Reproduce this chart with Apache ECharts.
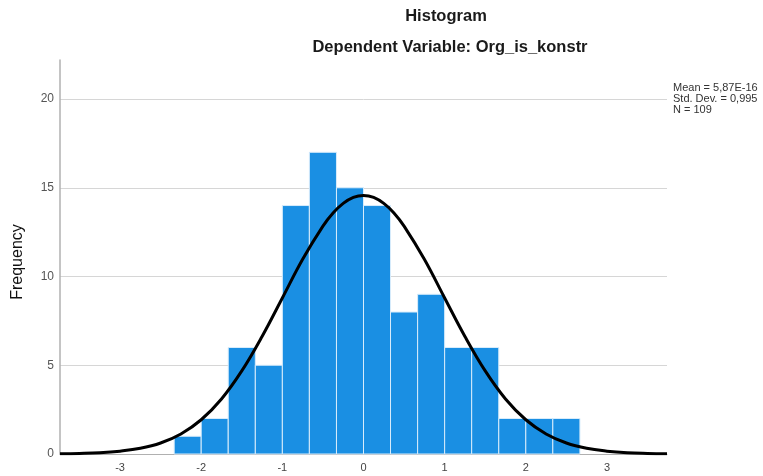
<!DOCTYPE html>
<html>
<head>
<meta charset="utf-8">
<script src="https://cdn.jsdelivr.net/npm/echarts@6/dist/echarts.min.js"></script>
<style>html,body{margin:0;padding:0;background:#fff}#c{width:763px;height:476px}</style>
</head>
<body>
<div id="c"></div>
<script>
// Histogram bins (lower edge, upper edge) and frequencies
var binLower = [-2.333, -2.000, -1.667, -1.333, -1.000, -0.667, -0.333, 0.000, 0.333, 0.667, 1.000, 1.333, 1.667, 2.000, 2.333];
var binUpper = [-2.000, -1.667, -1.333, -1.000, -0.667, -0.333, 0.000, 0.333, 0.667, 1.000, 1.333, 1.667, 2.000, 2.333, 2.667];
var frequencies = [1, 2, 6, 5, 14, 17, 15, 14, 8, 9, 6, 6, 2, 2, 2];

// Normal curve
var curveX = [-3.74, -3.5, -3.25, -3.0, -2.75, -2.5, -2.25, -2.0, -1.75, -1.5, -1.25, -1.0, -0.75, -0.5, -0.375, -0.25, -0.125, 0.0, 0.125, 0.25, 0.375, 0.5, 0.75, 1.0, 1.25, 1.5, 1.75, 2.0, 2.25, 2.5, 2.75, 3.0, 3.25, 3.5, 3.74];
var curveY = [0.01, 0.03, 0.07, 0.16, 0.32, 0.62, 1.13, 1.93, 3.10, 4.68, 6.62, 8.79, 10.97, 12.84, 13.58, 14.12, 14.46, 14.57, 14.46, 14.12, 13.58, 12.84, 10.97, 8.79, 6.62, 4.68, 3.10, 1.93, 1.13, 0.62, 0.32, 0.16, 0.07, 0.03, 0.01];

var xTicks = [-3, -2, -1, 0, 1, 2, 3];
var yTicks = [0, 5, 10, 15, 20];

var titleText = 'Histogram';
var subtitleText = 'Dependent Variable: Org_is_konstr';
var statsText = ['Mean = 5,87E-16', 'Std. Dev. = 0,995', 'N = 109'];

var chart = echarts.init(document.getElementById('c'), null, {renderer: 'canvas'});

var barData = binLower.map(function (lo, i) { return [lo, binUpper[i], frequencies[i]]; });
var lineData = curveX.map(function (x, i) { return [x, curveY[i]]; });

var option = {
  animation: false,
  backgroundColor: '#ffffff',
  textStyle: {fontFamily: 'Liberation Sans, Arial, sans-serif'},
  title: [
    {text: titleText, left: 441, top: 3, textAlign: 'center',
     textStyle: {fontSize: 16.5, fontWeight: 'bold', color: '#1a1a1a', fontFamily: 'Liberation Sans'}},
    {text: subtitleText, left: 445, top: 34, textAlign: 'center',
     textStyle: {fontSize: 16.5, fontWeight: 'bold', color: '#1a1a1a', fontFamily: 'Liberation Sans'}}
  ],
  grid: {left: 60, right: 96, top: 60, bottom: 22, containLabel: false},
  xAxis: {
    type: 'value', min: -3.74, max: 3.74,
    axisLine: {show: true, onZero: false, lineStyle: {color: '#b0b0b0', width: 1}},
    axisTick: {show: false},
    splitLine: {show: false},
    axisLabel: {customValues: xTicks, color: '#444', fontSize: 11, margin: 8,
                formatter: function (v) { return String(v); }}
  },
  yAxis: {
    type: 'value', min: 0, max: 22.2, interval: 5,
    axisLine: {show: true, onZero: false, lineStyle: {color: '#b0b0b0', width: 1.5}},
    axisTick: {show: false},
    axisLabel: {customValues: yTicks, color: '#555', fontSize: 12, margin: 6},
    splitLine: {show: true, showMaxLine: false, lineStyle: {color: '#d6d6d6', width: 1}}
  },
  series: [
    {
      type: 'custom',
      data: barData,
      encode: {x: [0, 1], y: 2},
      renderItem: function (params, api) {
        var p0 = api.coord([api.value(0), api.value(2)]);
        var p1 = api.coord([api.value(1), 0]);
        return {
          type: 'rect',
          shape: {x: p0[0], y: p0[1], width: p1[0] - p0[0], height: p1[1] - p0[1]},
          style: {fill: '#1a8fe3', stroke: '#d8ecfb', lineWidth: 1}
        };
      },
      z: 2
    },
    {
      type: 'line',
      data: lineData,
      smooth: 0.4,
      showSymbol: false,
      symbol: 'none',
      lineStyle: {color: '#000', width: 3},
      z: 3
    }
  ],
  graphic: [
    {type: 'text', x: 18, y: 262, rotation: Math.PI / 2,
     style: {text: 'Frequency', fontSize: 16, fill: '#111', fontFamily: 'Liberation Sans',
             align: 'center', verticalAlign: 'middle'}}
  ].concat(statsText.map(function (t, i) {
    return {type: 'text', left: 673, top: 82 + i * 11,
            style: {text: t, fontSize: 11, fill: '#333', fontFamily: 'Liberation Sans'}};
  }))
};
chart.setOption(option);
</script>
</body>
</html>
